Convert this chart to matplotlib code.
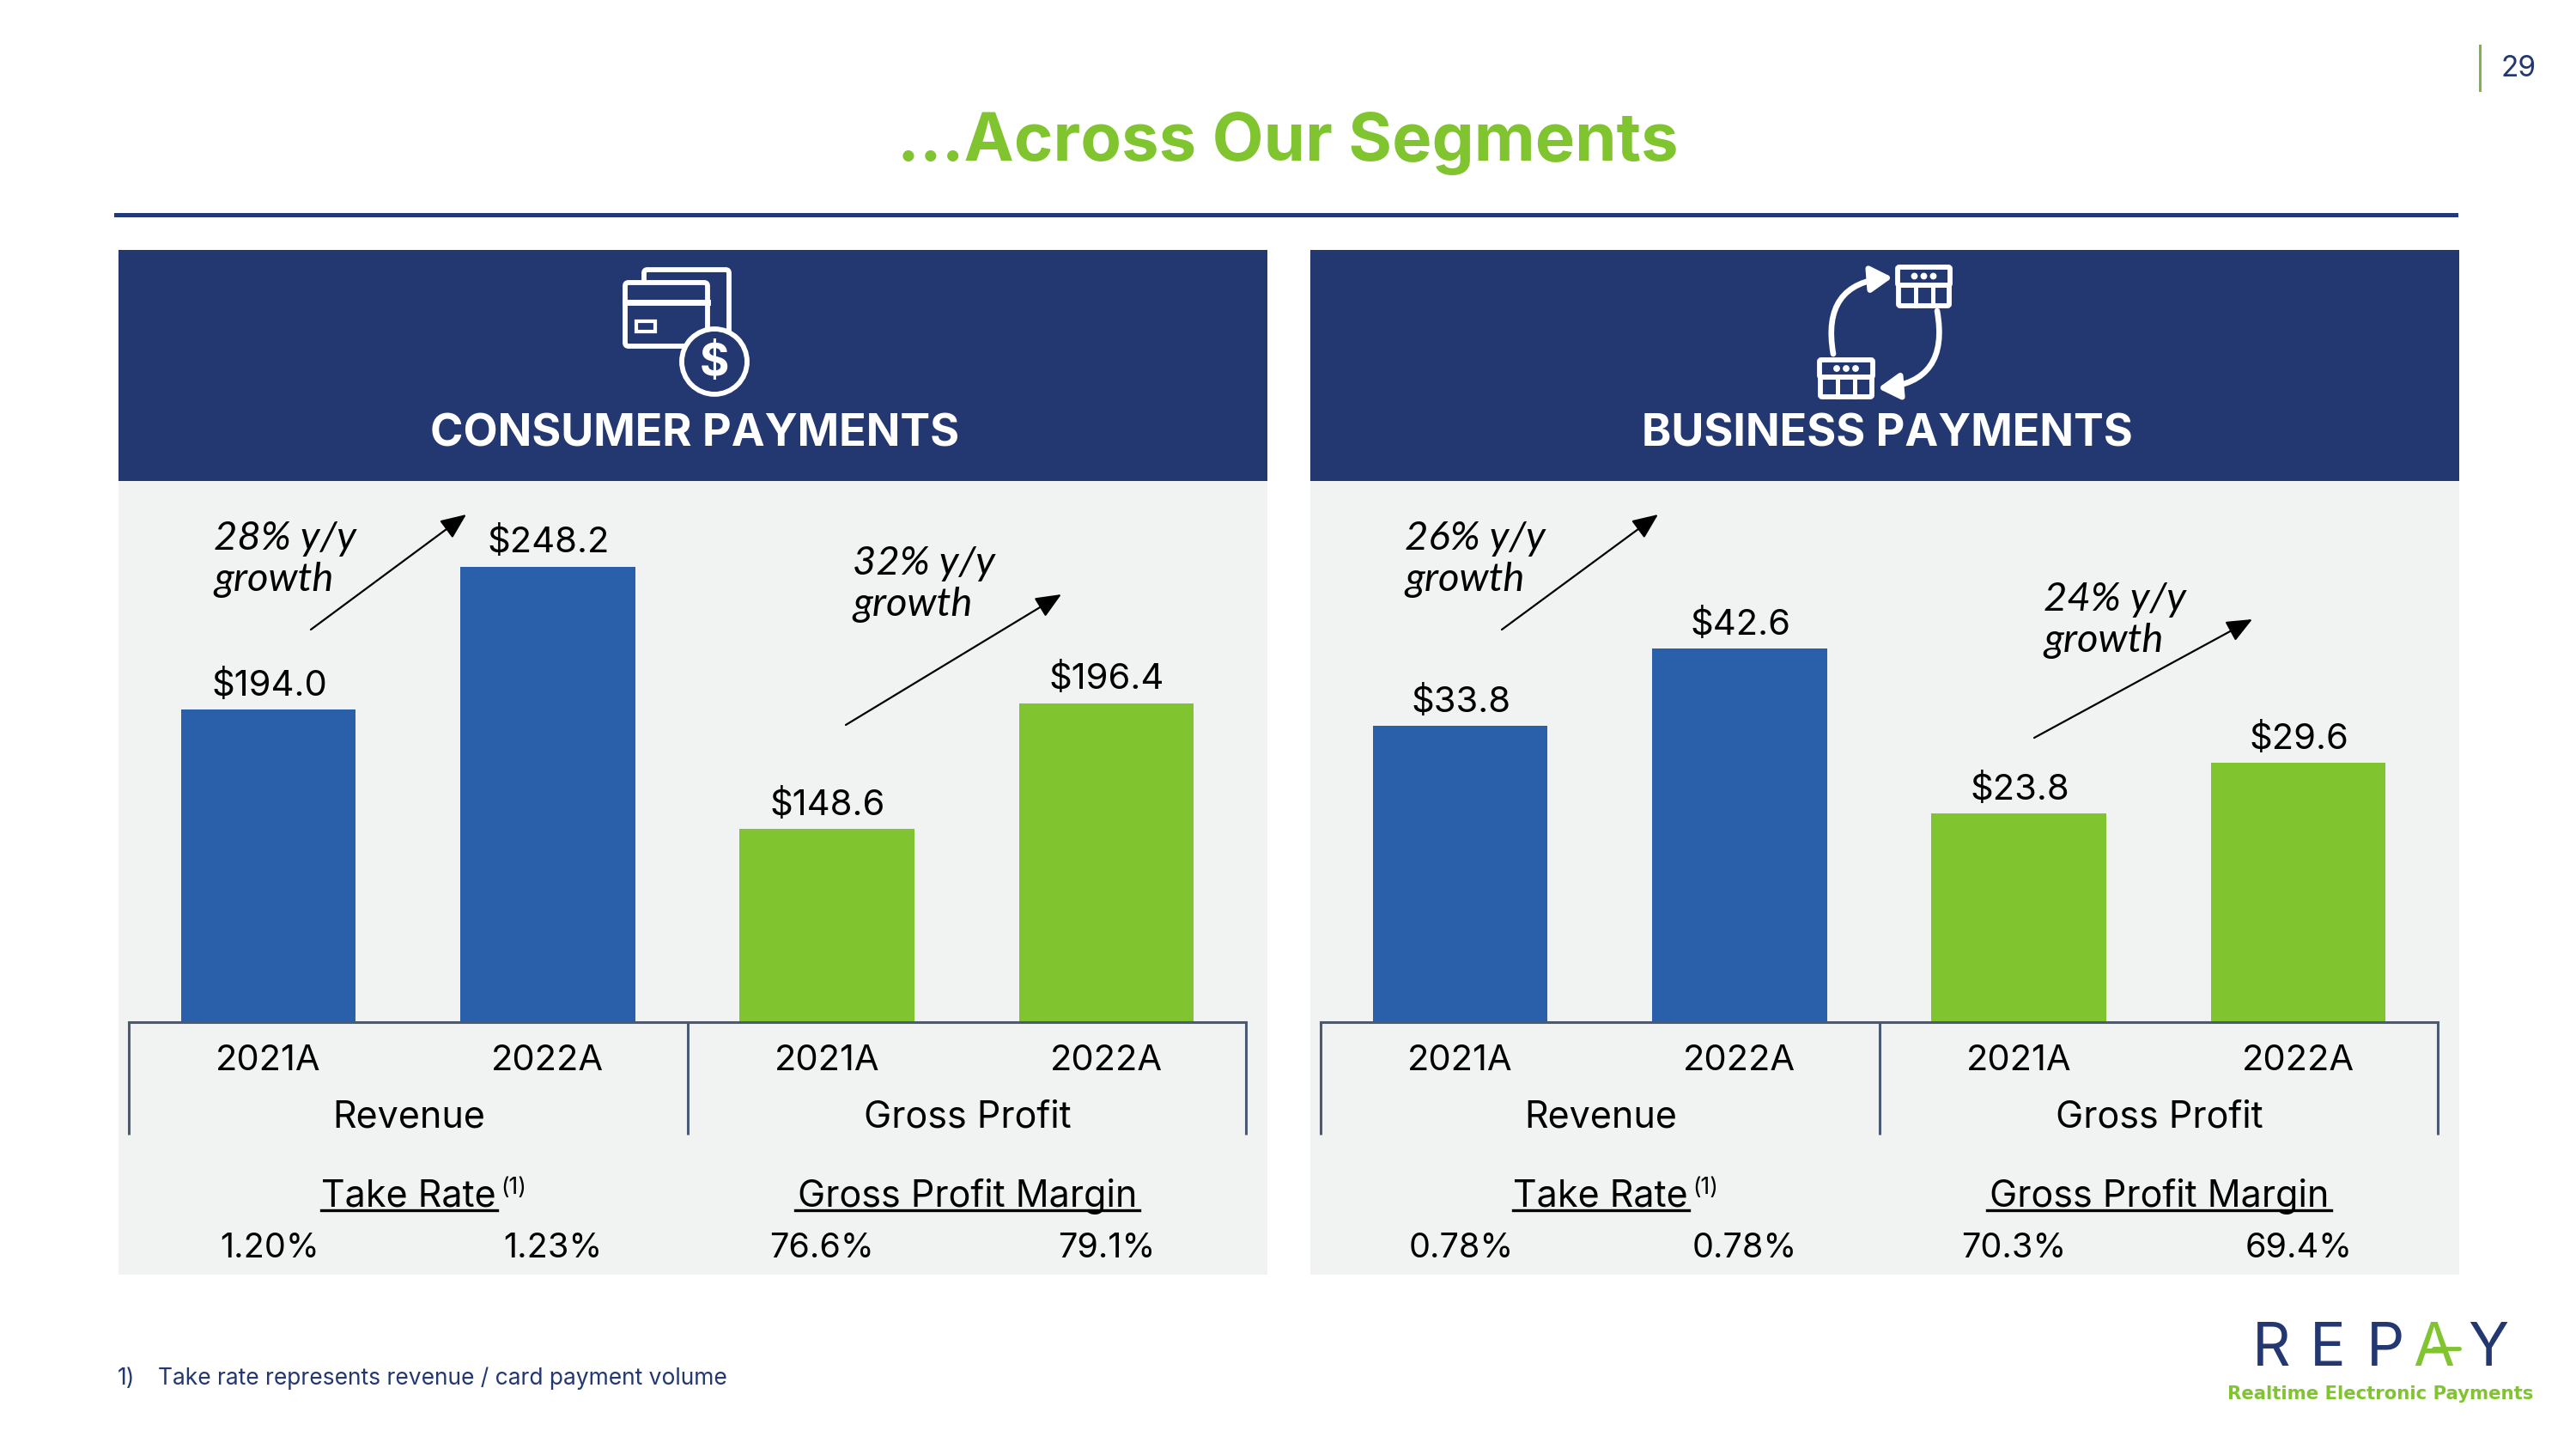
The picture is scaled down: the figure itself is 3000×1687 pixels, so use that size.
# -*- coding: utf-8 -*-
import matplotlib
matplotlib.use('Agg')
import matplotlib.pyplot as plt
from matplotlib.patches import Rectangle, FancyBboxPatch, Circle, FancyArrowPatch

W, H = 3000, 1687
NAVY = '#233771'
RULE = '#24397A'
BLUE = '#2A60AA'
GREEN = '#80C42F'
GREY = '#F1F3F3'
AXIS = '#4A5A72'
FONT = ['Inter', 'DejaVu Sans']
ITALIC = ['Lato', 'DejaVu Sans']

# datos
years = ['2021A', '2022A', '2021A', '2022A']
groups = ['Revenue', 'Gross Profit']
consumer_values = [194.0, 248.2, 148.6, 196.4]
business_values = [33.8, 42.6, 23.8, 29.6]
consumer_labels = ['$194.0', '$248.2', '$148.6', '$196.4']
business_labels = ['$33.8', '$42.6', '$23.8', '$29.6']
consumer_rates = ['1.20%', '1.23%', '76.6%', '79.1%']
business_rates = ['0.78%', '0.78%', '70.3%', '69.4%']
consumer_growth = ['28% y/y\ngrowth', '32% y/y\ngrowth']
business_growth = ['26% y/y\ngrowth', '24% y/y\ngrowth']

plt.rcParams['font.family'] = FONT
fig = plt.figure(figsize=(W / 100, H / 100), dpi=100, facecolor='white')

# capa de fondo en pixeles
bg = fig.add_axes([0, 0, 1, 1], zorder=0)
bg.set_xlim(0, W)
bg.set_ylim(H, 0)
bg.axis('off')


def rect(x0, y0, x1, y1, color):
    bg.add_patch(Rectangle((x0, y0), x1 - x0, y1 - y0, color=color, lw=0))


def outline_box(x0, y0, x1, y1, lw=4.2, fill=NAVY, round_=4, z=3):
    bg.add_patch(FancyBboxPatch((x0, y0), x1 - x0, y1 - y0,
                                boxstyle=f'round,pad=0,rounding_size={round_}',
                                fc=fill, ec='white', lw=lw, zorder=z))


def store(x0, x1, top, roof, bottom):
    # icono de tienda
    pad = 3
    outline_box(x0 + pad, roof, x1 - pad, bottom - 2, round_=2)
    outline_box(x0 + 2, top + 2, x1 - 2, roof, round_=2, z=4)
    cx = (x0 + x1) / 2
    for dx in (-11, 0, 11):
        bg.add_patch(Circle((cx + dx, (top + roof) / 2 + 1), 3.2, color='white', zorder=5))
    for dx in (-10, 10):
        bg.plot([cx + dx, cx + dx], [roof, bottom - 2], color='white', lw=3.6, zorder=5)


def cards_icon():
    outline_box(750, 314, 849, 388, z=3)
    outline_box(728, 329, 824, 403, z=4)
    bg.plot([728, 824], [352, 352], color='white', lw=5, zorder=5)
    bg.add_patch(Rectangle((741, 374), 22, 12, fc=NAVY, ec='white', lw=3, zorder=5))
    bg.add_patch(Circle((832, 421), 38, fc=NAVY, ec='white', lw=4.2, zorder=6))
    bg.text(832, 423, '$', color='white', fontsize=38, fontweight='bold',
            ha='center', va='center', zorder=7)


def swap_icon():
    store(2208, 2273, 309, 332, 358)
    store(2117, 2183, 417, 439, 464)
    for start, end in [((2135, 412), (2204, 323)), ((2256, 362), (2187, 452))]:
        bg.add_patch(FancyArrowPatch(start, end, connectionstyle='arc3,rad=-0.55',
                                     arrowstyle='-|>,head_length=1.0,head_width=0.6',
                                     mutation_scale=15, color='white', lw=4.8, zorder=3,
                                     shrinkA=0, shrinkB=0))


def growth(txt, tx, ty, start, end):
    bg.text(tx, ty, txt, family=ITALIC, style='italic', fontsize=34, ha='left', va='center',
            color='black', linespacing=1.19, zorder=8)
    bg.add_patch(FancyArrowPatch(start, end, arrowstyle='-|>,head_length=1.4,head_width=0.6',
                                 mutation_scale=13, color='black', lw=1.6, zorder=8,
                                 shrinkA=0, shrinkB=0))


def panel(x0, x1, title, title_x, values, labels, rates, ymin, ymax):
    rect(x0, 291, x1, 1484, GREY)
    rect(x0, 291, x1, 560, NAVY)
    bg.text(title_x, 506, title, color='white', fontsize=37.5, fontweight='bold', ha='center', va='center')

    ax_left = x0 + 12
    ax_right = x0 + 1313
    ax = fig.add_axes([ax_left / W, 1 - 1190 / H, (ax_right - ax_left) / W, 600 / H], zorder=1)
    ax.patch.set_alpha(0)
    xs = range(len(values))
    ax.bar(xs, values, width=0.625, color=[BLUE, BLUE, GREEN, GREEN], zorder=2)
    ax.set_xlim(-0.5, 3.5)
    ax.set_ylim(ymin, ymax)
    for s in ['top', 'left', 'right']:
        ax.spines[s].set_visible(False)
    ax.spines['bottom'].set_color(AXIS)
    ax.spines['bottom'].set_linewidth(2.2)
    ax.spines['bottom'].set_zorder(3)
    ax.yaxis.set_visible(False)
    ax.set_xticks(list(xs))
    ax.set_xticklabels(years, fontsize=30)
    ax.tick_params(axis='x', length=0, pad=19, colors='black')
    for i, v in enumerate(values):
        ax.annotate(labels[i], (i, v), xytext=(0.5, 20), textcoords='offset points',
                    ha='center', va='center', fontsize=30)

    # divisores y grupos
    mid = (ax_left + ax_right) / 2
    for x in (ax_left, mid, ax_right):
        bg.plot([x, x], [1190, 1321], color=AXIS, lw=2.2, solid_capstyle='butt')
    cx1 = (ax_left + mid) / 2 + 1
    cx2 = (mid + ax_right) / 2 + 1
    bg.text(cx1, 1301, groups[0], fontsize=31, ha='center', va='center')
    bg.text(cx2, 1301, groups[1], fontsize=31, ha='center', va='center')

    # take rate y margen
    bg.text(cx1, 1393, 'Take Rate', fontsize=31, ha='center', va='center')
    bg.plot([cx1 - 102, cx1 + 103], [1409, 1409], color='black', lw=2.4)
    bg.text(cx1 + 122, 1383, '(1)', fontsize=19, ha='center', va='center')
    bg.text(cx2, 1393, 'Gross Profit Margin', fontsize=31, ha='center', va='center')
    bg.plot([cx2 - 201, cx2 + 200], [1409, 1409], color='black', lw=2.4)
    offs = [164, 494, 807, 1139]
    for i, r in enumerate(rates):
        bg.text(ax_left + offs[i], 1453, r, fontsize=28.5, ha='center', va='center')


# encabezado
bg.text(1500, 167, '...Across Our Segments', color=GREEN, fontsize=56, fontweight='bold',
        ha='center', va='center')
rect(133, 247.5, 2863, 252.5, RULE)
rect(2887, 52, 2890, 107, '#7FB24A')
bg.text(2933, 80, '29', color=NAVY, fontsize=24, ha='center', va='center')

panel(138, 1476, 'CONSUMER PAYMENTS', 809, consumer_values, consumer_labels, consumer_rates, 75.2, 75.2 + 600 / 3.065)
panel(1526, 2864, 'BUSINESS PAYMENTS', 2198, business_values, business_labels, business_rates, 0, 600 / 10.2)

cards_icon()
swap_icon()

growth(consumer_growth[0], 249, 651, (362, 733), (543, 599))
growth(consumer_growth[1], 993, 680, (985, 844), (1236, 692))
growth(business_growth[0], 1636, 651, (1749, 733), (1931, 599))
growth(business_growth[1], 2380, 722, (2369, 859), (2623, 721))

# nota al pie
bg.text(137, 1605, '1)', color=NAVY, fontsize=19, ha='left', va='center')
bg.text(184, 1605, 'Take rate represents revenue / card payment volume', color=NAVY, fontsize=19,
        ha='left', va='center')

# logo
for letter, x, c in zip('REPAY', [2645, 2711, 2778, 2834, 2898], [NAVY, NAVY, NAVY, GREEN, NAVY]):
    bg.text(x, 1572, letter, color=c, fontsize=50, ha='center', va='center')
bg.plot([2834, 2864], [1570, 1570], color=GREEN, lw=3.5, solid_capstyle='round')
bg.text(2772, 1623, 'Realtime Electronic Payments', color=GREEN, fontsize=15.3, fontweight='bold',
        family='DejaVu Sans', ha='center', va='center')

fig.savefig('out.png', dpi=100)
